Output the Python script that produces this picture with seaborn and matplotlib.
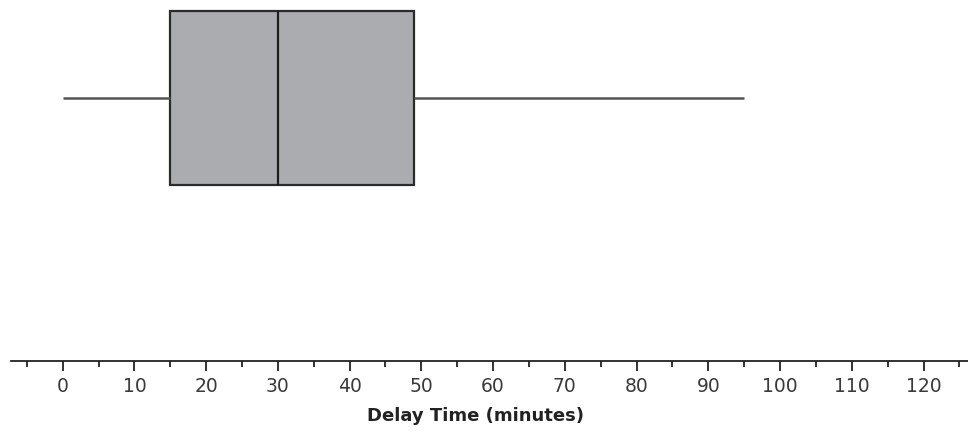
import numpy as np
import matplotlib
matplotlib.use('Agg')
import matplotlib.pyplot as plt
from matplotlib.ticker import MultipleLocator
import seaborn as sns

# five-number summary (minutes)
delay_times = [0, 15, 30, 49, 95]
major_ticks = list(range(0, 121, 10))

sns.set_style('ticks')
plt.rcParams['font.family'] = ['DejaVu Sans']

fig = plt.figure(figsize=(9.68, 4.35), dpi=100)
ax = fig.add_axes([11 / 968, 1 - 362 / 435, 1 - 11 / 968, 362 / 435])

sns.boxplot(x=delay_times, ax=ax, whis=np.inf, width=0.8, showcaps=False,
            color='#abacaf', saturation=1, linewidth=1.6,
            boxprops=dict(facecolor='#abacaf', edgecolor='#2b2b2b'),
            medianprops=dict(color='#1e1e1e', linewidth=1.6),
            whiskerprops=dict(color='#555555', linewidth=1.8))

ax.set_xlim(-7.2, 126.2)
ax.set_ylim(1.209, -0.455)
ax.set_xticks(major_ticks)
ax.xaxis.set_minor_locator(MultipleLocator(5))
ax.set_yticks([])
sns.despine(ax=ax, left=True, top=True, right=True)
ax.spines['bottom'].set_color('#222222')
ax.spines['bottom'].set_linewidth(1.3)
ax.tick_params(axis='x', which='major', length=7, width=1.3, color='#222222',
               labelsize=13.5, labelcolor='#3a3a3a', pad=4)
ax.tick_params(axis='x', which='minor', length=4, width=1.3, color='#222222')
ax.set_xlabel('Delay Time (minutes)', fontsize=13, fontweight='bold',
              color='#222222')
# label sits a little left of the axes centre in the original
ax.xaxis.set_label_coords(0.485, -0.123)

fig.savefig('out.png', dpi=100, facecolor='white')
